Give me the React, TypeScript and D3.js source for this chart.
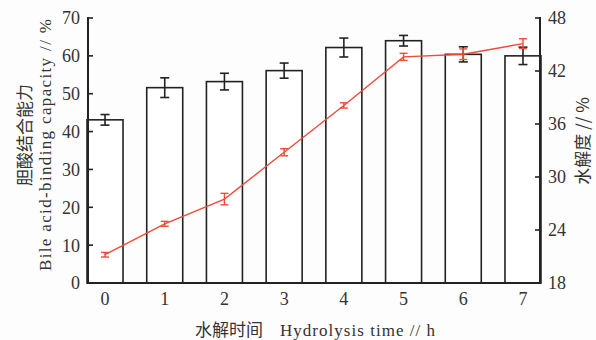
import * as d3 from 'd3'

const hours = [0, 1, 2, 3, 4, 5, 6, 7]
const binding = [43.1, 51.6, 53.2, 56.1, 62.2, 64.0, 60.4, 60.0]
const bindingErr = [1.4, 2.6, 2.2, 2.0, 2.5, 1.4, 2.0, 2.3]
const dh = [21.2, 24.7, 27.5, 32.8, 38.1, 43.6, 43.9, 45.1]
const dhErr = [0.26, 0.28, 0.65, 0.4, 0.3, 0.4, 0.6, 0.55]
const leftTicks = [0, 10, 20, 30, 40, 50, 60, 70]
const rightTicks = [18, 24, 30, 36, 42, 48]

const dims = {
  width: 596,
  height: 340,
  left: 88,
  right: 540,
  top: 18,
  bottom: 283,
}

const num = '"Liberation Serif", "Times New Roman", serif'
const cjk = '"Noto Sans CJK SC", sans-serif'
const red = '#ee4b3a'
const ink = '#222'

export default function App() {
  const { left, right, top, bottom } = dims

  const x = d3
    .scalePoint<number>()
    .domain(hours)
    .range([left, right])
    .padding(0.285)
  const yL = d3.scaleLinear().domain([0, 70]).range([bottom, top])
  const yR = d3.scaleLinear().domain([18, 48]).range([bottom, top])
  const barW = 36

  const line = d3
    .line<number>()
    .x((_, i) => x(hours[i]) as number)
    .y((d) => yR(d))

  return (
    <svg
      width={dims.width}
      height={dims.height}
      style={{ position: 'absolute', left: 0, top: 0, background: '#fdfdfd' }}
    >
      {/* bars */}
      {binding.map((v, i) => (
        <rect
          key={i}
          x={(x(hours[i]) as number) - barW / 2}
          y={yL(v)}
          width={barW}
          height={bottom - yL(v)}
          fill="white"
          stroke={ink}
          strokeWidth={1.6}
        />
      ))}
      {/* bar error bars */}
      {binding.map((v, i) => {
        const cx = x(hours[i]) as number
        const y1 = yL(v - bindingErr[i])
        const y2 = yL(v + bindingErr[i])
        return (
          <g key={i} stroke={ink} strokeWidth={1.6}>
            <line x1={cx} x2={cx} y1={y1} y2={y2} />
            <line x1={cx - 4.5} x2={cx + 4.5} y1={y1} y2={y1} />
            <line x1={cx - 4.5} x2={cx + 4.5} y1={y2} y2={y2} />
          </g>
        )
      })}
      {/* hydrolysis line */}
      <path d={line(dh) ?? ''} fill="none" stroke={red} strokeWidth={1.4} />
      {dh.map((v, i) => {
        const cx = x(hours[i]) as number
        const y1 = yR(v - dhErr[i])
        const y2 = yR(v + dhErr[i])
        return (
          <g key={i} stroke={red} strokeWidth={1.4}>
            <line x1={cx} x2={cx} y1={y1} y2={y2} />
            <line x1={cx - 4} x2={cx + 4} y1={y1} y2={y1} />
            <line x1={cx - 4} x2={cx + 4} y1={y2} y2={y2} />
          </g>
        )
      })}

      {/* axes */}
      <g stroke={ink} strokeWidth={2} fill="none">
        <line x1={left} x2={left} y1={top - 1} y2={bottom + 1} />
        <line x1={right} x2={right} y1={top - 1} y2={bottom + 1} />
        <line x1={left - 1} x2={right + 1} y1={bottom} y2={bottom} />
      </g>
      {leftTicks.map((t) => (
        <g key={t}>
          <line x1={left} x2={left + 5} y1={yL(t)} y2={yL(t)} stroke={ink} strokeWidth={1.6} />
          <text
            x={left - 8}
            y={yL(t)}
            dy="0.36em"
            textAnchor="end"
            fontFamily={num}
            fontSize={18}
            fill="#333"
          >
            {t}
          </text>
        </g>
      ))}
      {rightTicks.map((t) => (
        <g key={t}>
          <line x1={right - 5} x2={right} y1={yR(t)} y2={yR(t)} stroke={ink} strokeWidth={1.6} />
          <text
            x={right + 8}
            y={yR(t)}
            dy="0.36em"
            textAnchor="start"
            fontFamily={num}
            fontSize={18}
            fill="#333"
          >
            {t}
          </text>
        </g>
      ))}
      {hours.map((h) => (
        <text
          key={h}
          x={x(h) as number}
          y={305}
          textAnchor="middle"
          fontFamily={num}
          fontSize={18}
          fill="#333"
        >
          {h}
        </text>
      ))}

      {/* axis titles */}
      <text
        transform="translate(31,135) rotate(-90)"
        textAnchor="middle"
        fontFamily={cjk}
        fontSize={17}
        fill="#333"
      >
        胆酸结合能力
      </text>
      <text
        transform="translate(51,145) rotate(-90)"
        textAnchor="middle"
        fontFamily={num}
        fontSize={17}
        fill="#333"
        textLength={252}
        lengthAdjust="spacing"
      >
        Bile acid-binding capacity // %
      </text>
      <text
        transform="translate(589,141) rotate(-90)"
        textAnchor="middle"
        fontFamily={cjk}
        fontSize={17}
        fill="#333"
      >
        水解度 // %
      </text>
      <text x={195} y={336} fontFamily={cjk} fontSize={17} fill="#333">
        水解时间
      </text>
      <text
        x={280}
        y={336}
        fontFamily={num}
        fontSize={17}
        fill="#333"
        textLength={155}
        lengthAdjust="spacing"
      >
        Hydrolysis time // h
      </text>
    </svg>
  )
}
